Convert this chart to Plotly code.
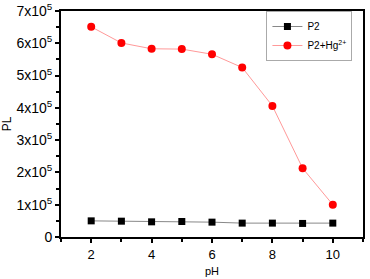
import plotly.graph_objects as go

ph = [2, 3, 4, 5, 6, 7, 8, 9, 10]
p2 = [0.50e5, 0.49e5, 0.47e5, 0.48e5, 0.46e5, 0.43e5, 0.43e5, 0.42e5, 0.43e5]
p2_hg = [6.51e5, 6.01e5, 5.83e5, 5.82e5, 5.66e5, 5.25e5, 4.06e5, 2.13e5, 1.0e5]
y_tickvals = [0, 1e5, 2e5, 3e5, 4e5, 5e5, 6e5, 7e5]
y_ticktext = ["0"] + [f"{i}x10<sup>5</sup>" for i in range(1, 8)]
x_tickvals = [2, 4, 6, 8, 10]

fig = go.Figure()
fig.add_trace(go.Scatter(
    x=ph, y=p2, name="P2", mode="lines+markers",
    line=dict(color="#888888", width=1),
    marker=dict(symbol="square", color="black", size=7),
))
fig.add_trace(go.Scatter(
    x=ph, y=p2_hg, name="P2+Hg<sup>2+</sup>", mode="lines+markers",
    line=dict(color="#ff9999", width=1),
    marker=dict(symbol="circle", color="red", size=8),
))

axis_common = dict(
    showline=True, linecolor="black", linewidth=2, mirror=True,
    showgrid=False, zeroline=False, ticks="outside", ticklen=4,
    tickwidth=1.5, tickcolor="black",
)
fig.update_xaxes(
    range=[1, 11], tickvals=x_tickvals,
    tickfont=dict(family="Liberation Sans", size=13, color="black"),
    minor=dict(ticks="outside", ticklen=3, tickcolor="black", dtick=1, tick0=1),
    title=dict(text="pH", font=dict(family="Liberation Sans", size=11, color="black"), standoff=7),
    **axis_common,
)
fig.update_yaxes(
    range=[0, 7e5], tickvals=y_tickvals, ticktext=y_ticktext,
    tickfont=dict(family="Liberation Sans", size=14, color="black"),
    minor=dict(ticks="outside", ticklen=3, tickcolor="black", dtick=0.5e5, tick0=0),
    title=dict(text="PL", font=dict(family="Liberation Sans", size=12, color="black"), standoff=4),
    **axis_common,
)
fig.update_layout(
    width=370, height=279,
    margin=dict(l=61, r=7, t=11, b=42, autoexpand=False),
    plot_bgcolor="white", paper_bgcolor="white",
    showlegend=True,
    legend=dict(
        x=0.965, y=1.0, xanchor="right", yanchor="top",
        bgcolor="white", bordercolor="#aaaaaa", borderwidth=1,
        font=dict(family="Liberation Sans", size=10, color="black"),
        tracegroupgap=0, itemwidth=30,
    ),
)
fig.write_html("out.html", post_script="document.body.style.margin='0';",
               config={"displayModeBar": False})
